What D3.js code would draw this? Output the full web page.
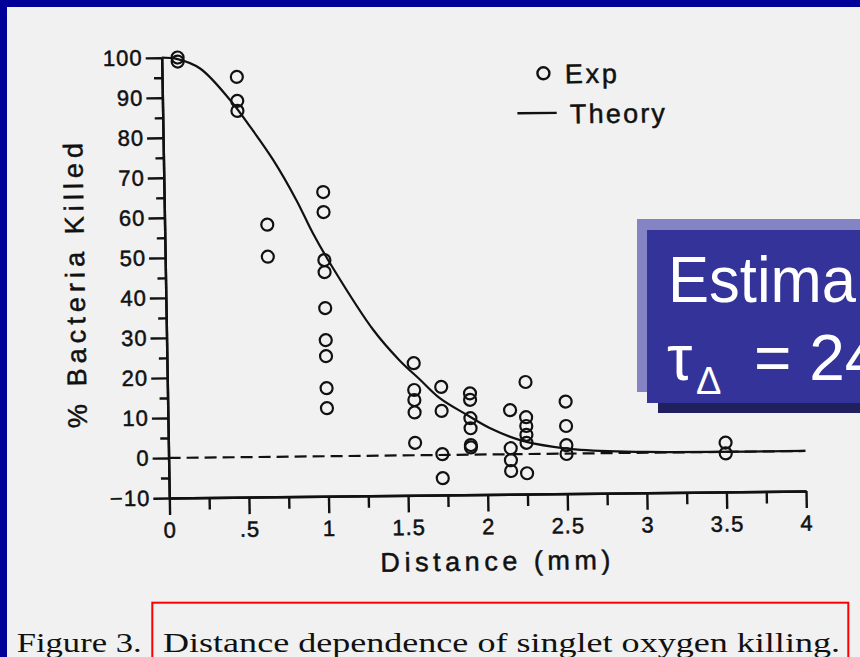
<!DOCTYPE html>
<html>
<head>
<meta charset="utf-8">
<script src="https://cdn.jsdelivr.net/npm/d3@7"></script>
<style>
  html, body { margin: 0; padding: 0; background: #000099; }
  svg { display: block; }
</style>
</head>
<body>
<svg id="chart" width="860" height="657"></svg>
<script>
// ---- data ----
const expDistance = [0.1, 0.47, 0.645, 1.0, 1.55, 1.72, 1.9, 2.15, 2.25, 2.5, 3.5];
const expKilled = [
  [100, 99],
  [95, 89, 86.5],
  [58, 50],
  [66, 61, 49, 46, 37, 29, 25, 17, 12],
  [23, 16.3, 13.8, 10.7, 3.1],
  [17, 11, 0.2, -5.8],
  [15.3, 13.7, 9.1, 6.6, 2.4, 1.8],
  [11, 1.5, -1.5, -4.2],
  [18, 9.2, 7, 4.8, 2.8, -4.8],
  [13, 6.9, 2.1, -0.1],
  [2.3, -0.4]
];
const theoryDistance = [0, 0.1, 0.24, 0.43, 0.55, 0.69, 0.83, 0.93, 1.05, 1.3, 1.46, 1.59, 1.71, 1.88, 2.02, 2.21, 2.42, 2.59, 3.0, 4.0];
const theoryKilled   = [100, 99.6, 97.2, 89, 82.4, 74.1, 64.1, 55.8, 47.2, 31.4, 23.8, 18.8, 14.2, 9.9, 6.6, 3.5, 1.7, 0.9, 0.2, 0.0];

const xMajor = [0, 0.5, 1, 1.5, 2, 2.5, 3, 3.5, 4];
const xMajorLabels = ["0", ".5", "1", "1.5", "2", "2.5", "3", "3.5", "4"];
const xMinor = [0.25, 0.75, 1.25, 1.75, 2.25, 2.75, 3.25, 3.75];
const yMajor = [100, 90, 80, 70, 60, 50, 40, 30, 20, 10, 0, -10];
const yMajorLabels = ["100", "90", "80", "70", "60", "50", "40", "30", "20", "10", "0", "\u221210"];
const yMinor = [95, 85, 75, 65, 55, 45, 35, 25, 15, 5, -5];

const ink = "#111";
const svg = d3.select("#chart");

// page + scanned sheet
svg.append("rect").attr("width", 860).attr("height", 657).attr("fill", "#000099");
svg.append("rect").attr("x", 7).attr("y", 7).attr("width", 853).attr("height", 650).attr("fill", "#f1f1f1");

// plot frame: origin at (0 mm, -10 %), slightly skewed like the printed figure
const g = svg.append("g").attr("transform", "matrix(1,-0.011,0.0173,1,169.3,498)");

const x = d3.scaleLinear().domain([0, 4]).range([0, 636.7]);
const y = d3.scaleLinear().domain([-10, 100]).range([0, -440.3]);

const sans = "'Liberation Sans', Arial, sans-serif";

function styleAxis(sel) {
  sel.selectAll("path, line").attr("stroke", ink).attr("stroke-width", 2.4);
  sel.selectAll("text").attr("fill", ink).attr("stroke", ink).attr("stroke-width", 0.5)
    .attr("font-family", sans).attr("font-size", 22).attr("letter-spacing", 1);
}

// x axis
g.append("g")
  .call(d3.axisBottom(x).tickValues(xMinor).tickSize(12).tickSizeOuter(0).tickFormat(""))
  .call(styleAxis);
g.append("g")
  .call(d3.axisBottom(x).tickValues(xMajor).tickSize(17).tickSizeOuter(0).tickPadding(7)
        .tickFormat((d, i) => xMajorLabels[i]))
  .call(styleAxis);

// y axis
g.append("g")
  .call(d3.axisLeft(y).tickValues(yMinor).tickSize(8).tickSizeOuter(0).tickFormat(""))
  .call(styleAxis);
g.append("g")
  .call(d3.axisLeft(y).tickValues(yMajor).tickSize(16).tickSizeOuter(0).tickPadding(3)
        .tickFormat((d, i) => yMajorLabels[i]))
  .call(styleAxis);

// zero line
g.append("line")
  .attr("x1", x(0)).attr("x2", x(4)).attr("y1", y(0)).attr("y2", y(0))
  .attr("stroke", ink).attr("stroke-width", 2.2).attr("stroke-dasharray", "12,6");

// theory curve
const theory = theoryDistance.map((d, i) => [d, theoryKilled[i]]);
g.append("path")
  .datum(theory)
  .attr("fill", "none").attr("stroke", ink).attr("stroke-width", 2.2)
  .attr("d", d3.line().x(d => x(d[0])).y(d => y(d[1])).curve(d3.curveCatmullRom.alpha(0.5)));

// experimental points
const pts = expDistance.flatMap((d, i) => expKilled[i].map(v => [d, v]));
g.append("g").selectAll("circle").data(pts).join("circle")
  .attr("cx", d => x(d[0])).attr("cy", d => y(d[1])).attr("r", 6)
  .attr("fill", "none").attr("stroke", ink).attr("stroke-width", 2.2);

// axis titles
g.append("text")
  .attr("x", 210).attr("y", 76)
  .attr("textLength", 230).attr("lengthAdjust", "spacing")
  .attr("font-family", sans).attr("font-size", 27).attr("fill", ink)
  .attr("stroke", ink).attr("stroke-width", 0.5)
  .text("Distance (mm)");
g.append("text")
  .attr("transform", "translate(-81,-71) rotate(-90)")
  .attr("textLength", 285).attr("lengthAdjust", "spacing")
  .attr("font-family", sans).attr("font-size", 27).attr("fill", ink)
  .attr("stroke", ink).attr("stroke-width", 0.5)
  .text("% Bacteria Killed");

// legend
g.append("circle").attr("cx", 381.4).attr("cy", -420.5).attr("r", 6)
  .attr("fill", "none").attr("stroke", ink).attr("stroke-width", 2.4);
g.append("text").attr("x", 402.9).attr("y", -410.3)
  .attr("textLength", 52).attr("lengthAdjust", "spacing")
  .attr("font-family", sans).attr("font-size", 27).attr("fill", ink)
  .attr("stroke", ink).attr("stroke-width", 0.5).text("Exp");
g.append("line").attr("x1", 354.7).attr("x2", 394).attr("y1", -380.8).attr("y2", -380.8)
  .attr("stroke", ink).attr("stroke-width", 2.4);
g.append("text").attr("x", 407.2).attr("y", -370.2)
  .attr("textLength", 95).attr("lengthAdjust", "spacing")
  .attr("font-family", sans).attr("font-size", 27).attr("fill", ink)
  .attr("stroke", ink).attr("stroke-width", 0.5).text("Theory");

// caption
const serif = "'Liberation Serif', 'Times New Roman', serif";
svg.append("text").attr("x", 16.7).attr("y", 652)
  .attr("textLength", 125).attr("lengthAdjust", "spacingAndGlyphs")
  .attr("font-family", serif).attr("font-size", 28).attr("fill", ink).text("Figure 3.");
svg.append("text").attr("x", 163).attr("y", 652)
  .attr("textLength", 677).attr("lengthAdjust", "spacingAndGlyphs")
  .attr("font-family", serif).attr("font-size", 28).attr("fill", ink)
  .text("Distance dependence of singlet oxygen killing.");
svg.append("rect").attr("x", 152.3).attr("y", 602.7).attr("width", 696).attr("height", 80)
  .attr("fill", "none").attr("stroke", "#ff0000").attr("stroke-width", 2);

// annotation box (continues past the right edge of the page)
svg.append("rect").attr("x", 637).attr("y", 219).attr("width", 240).attr("height", 173).attr("fill", "#8484c4");
svg.append("rect").attr("x", 658).attr("y", 241).attr("width", 220).attr("height", 172).attr("fill", "#20205e");
svg.append("rect").attr("x", 647).attr("y", 230).attr("width", 230).attr("height", 173).attr("fill", "#333399");
svg.append("text").attr("x", 668).attr("y", 302)
  .attr("textLength", 188).attr("lengthAdjust", "spacingAndGlyphs")
  .attr("font-family", sans).attr("font-size", 64).attr("fill", "#fff").text("Estima");
svg.append("text").attr("x", 667).attr("y", 380)
  .attr("font-family", sans).attr("font-size", 64).attr("fill", "#fff").text("\u03c4");
svg.append("text").attr("x", 696).attr("y", 394)
  .attr("font-family", sans).attr("font-size", 38).attr("fill", "#fff").text("\u0394");
svg.append("text").attr("x", 754).attr("y", 380)
  .attr("font-family", sans).attr("font-size", 64).attr("fill", "#fff").text("= 24");
</script>
</body>
</html>
